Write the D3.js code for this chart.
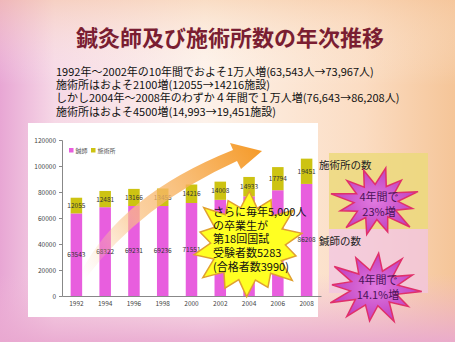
<!DOCTYPE html>
<html><head><meta charset="utf-8">
<script src="https://cdn.jsdelivr.net/npm/d3@7"></script>
<style>body{margin:0;padding:0;overflow:hidden}svg{display:block}text{font-family:"Noto Sans CJK JP","Noto Sans",sans-serif}</style>
</head><body>
<script>
const years = ["1992","1994","1996","1998","2000","2002","2004","2006","2008"];
const shinshi = [63543,68322,69231,69236,71551,73967,76643,81361,86208];
const shijutsusho = [12055,12481,13166,13455,14216,14008,14933,17794,19451];
const yTicks = [0,20000,40000,60000,80000,100000,120000];
const seriesNames = ["鍼師","施術所"];
const title = "鍼灸師及び施術所数の年次推移";
const subLines = [
  "1992年～2002年の10年間でおよそ1万人増(63,543人→73,967人)",
  "施術所はおよそ2100増(12055→14216施設)",
  "しかし2004年～2008年のわずか４年間で１万人増(76,643→86,208人)",
  "施術所はおよそ4500増(14,993→19,451施設)"
];
const burstLines = ["さらに毎年5,000人","の卒業生が","第18回国試","受験者数5283","(合格者数3990)"];
const sideLabels = ["施術所の数","鍼師の数"];
const growth1 = ["4年間で","23%増"];
const growth2 = ["4年間で","14.1%増"];

const W=455,H=342;
const svg=d3.select("body").append("svg").attr("width",W).attr("height",H);
const defs=svg.append("defs");
const bg=defs.append("linearGradient").attr("id","bg").attr("x1",0).attr("x2",1).attr("y1",0).attr("y2",0);
[[0,"#e8a6d4"],[0.12,"#f6d8e6"],[0.45,"#fdf2ea"],[0.8,"#fbdcc2"],[1,"#f5c598"]].forEach(s=>bg.append("stop").attr("offset",s[0]).attr("stop-color",s[1]));
const bg2=defs.append("linearGradient").attr("id","bg2").attr("x1",0).attr("x2",0).attr("y1",0).attr("y2",1);
[[0,"#f6c8a0",0.5],[0.25,"#ffffff",0],[0.8,"#f0b8d8",0],[1,"#e9a8d0",0.9]].forEach(s=>bg2.append("stop").attr("offset",s[0]).attr("stop-color",s[1]).attr("stop-opacity",s[2]));
svg.append("rect").attr("width",W).attr("height",H).attr("fill","url(#bg)");
svg.append("rect").attr("width",W).attr("height",H).attr("fill","url(#bg2)");

// title
svg.append("text").attr("x",230).attr("y",46).attr("text-anchor","middle").attr("font-size",22).attr("font-weight",700).attr("fill","#7a1e32").text(title);
svg.selectAll(".sub").data(subLines).join("text").attr("x",56).attr("y",(d,i)=>75.5+i*13.4).attr("font-size",11).attr("fill","#111").text(d=>d);

// right boxes
svg.append("rect").attr("x",329).attr("y",153).attr("width",99).attr("height",76).attr("fill","#ecd97c").attr("opacity",0.85);
svg.append("rect").attr("x",329).attr("y",229).attr("width",99).attr("height",64).attr("fill","#f2c6e2").attr("opacity",0.75);

// panel
svg.append("rect").attr("x",28).attr("y",123).attr("width",290).attr("height",194).attr("fill","#fff");
svg.selectAll(".side").data(sideLabels).join("text").attr("x",319).attr("y",(d,i)=>i?245:169).attr("font-size",10.5).attr("fill","#222").text(d=>d);

const x=d3.scaleBand().domain(years).range([62,321]).paddingInner(0.6).paddingOuter(0.3);
const y=d3.scaleLinear().domain([0,120000]).range([296,140]);
const gY=svg.append("g").attr("transform","translate(62,0)").call(d3.axisLeft(y).tickValues(yTicks).tickSize(3).tickFormat(d3.format("d")));
gY.selectAll("text").attr("font-size",6.5).attr("fill","#444").attr("font-family","Liberation Sans,Arial");
gY.selectAll("line,path").attr("stroke","#888");
const gX=svg.append("g").attr("transform","translate(0,296)").call(d3.axisBottom(x).tickSize(0).tickPadding(5));
gX.selectAll("text").attr("font-size",6.5).attr("fill","#444").attr("font-family","Liberation Sans,Arial");
gX.select("path").attr("stroke","#888");

const colors=["#e85ede","#cdc312"];
const g=svg.append("g");
g.selectAll(".b1").data(years).join("rect").attr("x",d=>x(d)).attr("width",x.bandwidth()).attr("y",(d,i)=>y(shinshi[i])).attr("height",(d,i)=>y(0)-y(shinshi[i])).attr("fill",colors[0]);
g.selectAll(".b2").data(years).join("rect").attr("x",d=>x(d)).attr("width",x.bandwidth()).attr("y",(d,i)=>y(shinshi[i]+shijutsusho[i])).attr("height",(d,i)=>y(shinshi[i])-y(shinshi[i]+shijutsusho[i])).attr("fill",colors[1]);
g.selectAll(".l1").data(years).join("text").attr("x",d=>x(d)+x.bandwidth()/2).attr("y",(d,i)=>(y(0)+y(shinshi[i]))/2+2.5).attr("text-anchor","middle").attr("font-size",6.5).attr("fill","#333").attr("font-family","Liberation Sans,Arial").text((d,i)=>shinshi[i]);
g.selectAll(".l2").data(years).join("text").attr("x",d=>x(d)+x.bandwidth()/2).attr("y",(d,i)=>(y(shinshi[i])+y(shinshi[i]+shijutsusho[i]))/2+2.5).attr("text-anchor","middle").attr("font-size",6.5).attr("fill","#333").attr("font-family","Liberation Sans,Arial").text((d,i)=>shijutsusho[i]);

// legend
const lg=svg.append("g").attr("transform","translate(69,148)");
seriesNames.forEach((n,i)=>{
  const ox=i*22;
  lg.append("rect").attr("x",ox).attr("y",0).attr("width",4.5).attr("height",4.5).attr("fill",colors[i]);
  lg.append("text").attr("x",ox+6.5).attr("y",4.5).attr("font-size",6).attr("fill","#555").text(n);
});

// arrow
const ag=defs.append("linearGradient").attr("id","arr").attr("gradientUnits","userSpaceOnUse").attr("x1",82).attr("y1",275).attr("x2",262).attr("y2",150);
[[0,"#fbd2a8",0],[0.35,"#f9c080",0.7],[1,"#f59a28",1]].forEach(s=>ag.append("stop").attr("offset",s[0]).attr("stop-color",s[1]).attr("stop-opacity",s[2]));
svg.append("path").attr("d","M80,274 Q120,195 233,150 L230,143 L262,151 L241,169 L237,161 Q140,205 86,278 Z").attr("fill","url(#arr)");

// starburst helper
function star(cx,cy,rx,ry,n,inner,rot,vary){
  const pts=[];
  for(let i=0;i<2*n;i++){
    const a=rot+Math.PI*i/n;
    const r=i%2===0?vary[(i/2)%vary.length]:inner;
    pts.push([cx+Math.cos(a)*rx*r,cy+Math.sin(a)*ry*r]);
  }
  return "M"+pts.map(p=>p.join(",")).join("L")+"Z";
}
svg.append("path").attr("d",star(248,244,55,54,14,0.68,-0.2,[1,0.9,1.05,0.88,0.98,0.92,1.03])).attr("fill","#ffff22").attr("stroke","#e0a030").attr("stroke-width",1.5);
svg.selectAll(".bl").data(burstLines).join("text").attr("x",213).attr("y",(d,i)=>216+i*13.7).attr("font-size",11).attr("fill","#111").text(d=>d);

const mg=defs.append("radialGradient").attr("id","mg");
mg.append("stop").attr("offset",0).attr("stop-color","#e07ae0");
mg.append("stop").attr("offset",1).attr("stop-color","#c040c0");
svg.append("path").attr("d",star(376,202,44,35,12,0.5,-0.3,[1,0.85,1.05,0.9,0.95])).attr("fill","url(#mg)").attr("stroke","#e0306a").attr("stroke-width",1.5);
svg.append("path").attr("d",star(374,288,48,36,12,0.5,0.1,[1,0.88,1.02,0.92,0.97])).attr("fill","url(#mg)").attr("stroke","#e0306a").attr("stroke-width",1.5);
svg.selectAll(".g1").data(growth1).join("text").attr("x",379).attr("y",(d,i)=>201+i*15).attr("text-anchor","middle").attr("font-size",11).attr("fill","#4a1258").text(d=>d);
svg.selectAll(".g2").data(growth2).join("text").attr("x",378).attr("y",(d,i)=>284+i*15).attr("text-anchor","middle").attr("font-size",11).attr("fill","#4a1258").text(d=>d);
</script>
</body></html>
